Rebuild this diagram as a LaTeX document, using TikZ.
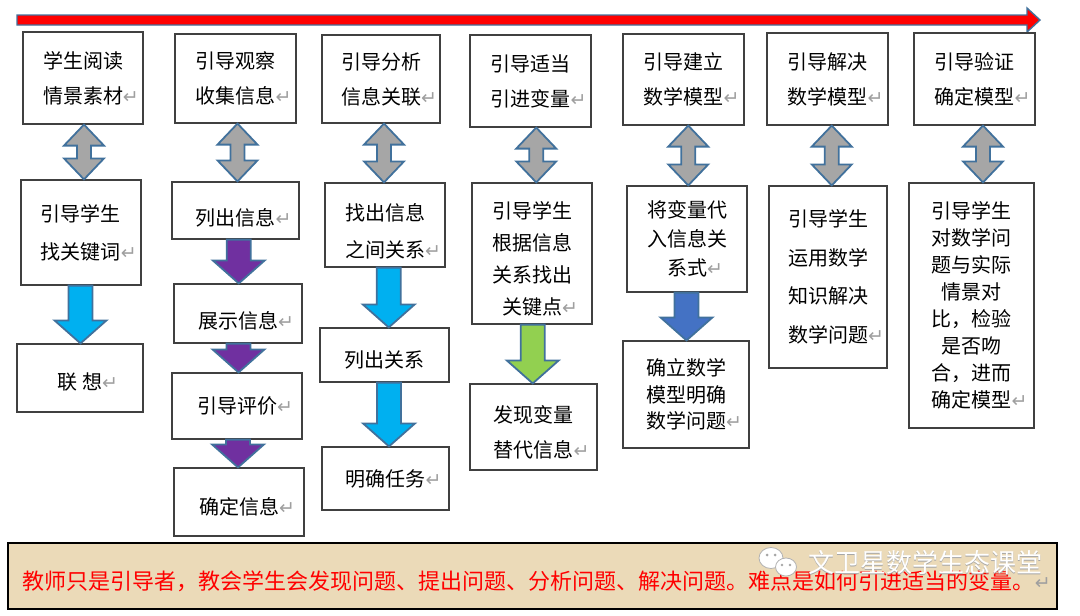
\documentclass[tikz,border=0pt]{standalone}
\usepackage{fontspec}
\setmainfont{Noto Sans CJK SC}
\newfontfamily\symfont{DejaVu Sans}
\usepackage{tikz}
\usetikzlibrary{calc}

\definecolor{arrowline}{RGB}{65,113,156}
\definecolor{boxline}{RGB}{64,64,64}
\definecolor{flowcyan}{RGB}{0,176,240}
\definecolor{flowpurple}{RGB}{112,48,160}
\definecolor{flowgreen}{RGB}{146,208,80}
\definecolor{flowblue}{RGB}{68,114,196}
\definecolor{flowgray}{RGB}{166,166,166}
\definecolor{paper}{RGB}{235,218,184}
\definecolor{notered}{RGB}{255,0,0}

% paragraph mark after a line
\newcommand{\pmark}{\rlap{\fontsize{19}{19}\symfont\color{gray!75}↵}}
% push the text of a box down
\newcommand{\lowtext}[1]{\rule{0pt}{\dimexpr17.6pt+#1*2\relax}}

% block arrow down between two boxes
\newcommand{\blockarrow}[4][0pt]{%
  \draw[arrowline, line width=1.8pt, fill=#4]
    let \p1=(#2.south), \p2=(#3.north), \p3=($(#2.south)!0.5!(#3.north)$) in
    (\x3+#1-12pt,\y1) -- (\x3+#1+12pt,\y1) -- (\x3+#1+12pt,\y2+23pt) -- (\x3+#1+26pt,\y2+23pt)
    -- (\x3+#1,\y2) -- (\x3+#1-26pt,\y2+23pt) -- (\x3+#1-12pt,\y2+23pt) -- cycle;}

% double arrow between two boxes
\newcommand{\dblarrow}[3][0pt]{%
  \draw[arrowline, line width=1.8pt, fill=flowgray]
    let \p1=(#2.south), \p2=(#3.north), \p3=($(#2.south)!0.5!(#3.north)$) in
    (\x3+#1,\y1) -- (\x3+#1+20pt,\y1-21pt) -- (\x3+#1+7pt,\y1-21pt) -- (\x3+#1+7pt,\y2+21pt)
    -- (\x3+#1+20pt,\y2+21pt) -- (\x3+#1,\y2) -- (\x3+#1-20pt,\y2+21pt) -- (\x3+#1-7pt,\y2+21pt)
    -- (\x3+#1-7pt,\y1-21pt) -- (\x3+#1-20pt,\y1-21pt) -- cycle;}

\begin{document}
\begin{tikzpicture}[x=1pt, y=-1pt,
    box/.style={draw=boxline, line width=1.2pt, inner sep=0pt, align=center,
      font=\fontsize{20}{35}\selectfont},
    ]
    \useasboundingbox (0,0) rectangle (1080,616);

    % time line
    \draw[arrowline, line width=1.4pt, fill=notered] (17,15) -- (1027,15) -- (1027,8) -- (1040,20)
        -- (1027,32) -- (1027,25) -- (17,25) -- cycle;

    % top row
    \node[box, minimum width=120, minimum height=92] (t1) at (83,78) {学生阅读\\情景素材\pmark};
    \node[box, minimum width=121, minimum height=89] (t2) at (235.5,78.5) {引导观察\\收集信息\pmark};
    \node[box, minimum width=118, minimum height=88] (t3) at (381,79) {引导分析\\信息关联\pmark};
    \node[box, minimum width=121, minimum height=92] (t4) at (530.5,81) {引导适当\\引进变量\pmark};
    \node[box, minimum width=121, minimum height=91] (t5) at (683.5,79.5) {引导建立\\数学模型\pmark};
    \node[box, minimum width=121, minimum height=92] (t6) at (827.5,79) {引导解决\\数学模型\pmark};
    \node[box, minimum width=121, minimum height=92] (t7) at (974.5,79) {引导验证\\确定模型\pmark};

    % second row
    \node[box, minimum width=120, minimum height=105, font=\fontsize{20}{38}\selectfont] (b1) at (81,232.5) {引导学生\\找关键词\pmark};
    \node[box, minimum width=127, minimum height=57] (b2) at (235.5,210.5) {\lowtext{7pt}列出信息\pmark};
    \node[box, minimum width=120, minimum height=84, font=\fontsize{20}{37}\selectfont] (b3) at (385,225) {\lowtext{6pt}找出信息\\之间关系\pmark};
    \node[box, minimum width=120, minimum height=141, font=\fontsize{20}{32}\selectfont] (b4) at (532,253.5) {\lowtext{5pt}引导学生\\根据信息\\关系找出\\关键点\pmark};
    \node[box, minimum width=120, minimum height=106, font=\fontsize{20}{29}\selectfont] (b5) at (687,239) {将变量代\\入信息关\\系式\pmark};
    \node[box, minimum width=118, minimum height=182, font=\fontsize{20}{38.5}\selectfont] (b6) at (828,277) {引导学生\\运用数学\\知识解决\\数学问题\pmark};
    \node[box, minimum width=125, minimum height=245, font=\fontsize{20}{27}\selectfont] (b7) at (971.5,305.5) {引导学生\\对数学问\\题与实际\\情景对\\比，检验\\是否吻\\合，进而\\确定模型\pmark};

    % lower rows
    \node[box, minimum width=126, minimum height=68] (c1) at (80,378) {\lowtext{4pt}联\ 想\pmark};
    \node[box, minimum width=128, minimum height=59] (c2) at (238,313.5) {\lowtext{7pt}展示信息\pmark};
    \node[box, minimum width=130, minimum height=66] (d2) at (237,406) {引导评价\pmark};
    \node[box, minimum width=130, minimum height=68] (e2) at (239,502) {\lowtext{5pt}确定信息\pmark};
    \node[box, minimum width=129, minimum height=54] (c3) at (384.5,355) {\lowtext{5pt}列出关系};
    \node[box, minimum width=127, minimum height=63] (d3) at (385.5,478.5) {明确任务\pmark};
    \node[box, minimum width=127, minimum height=86] (c4) at (533.5,427) {\lowtext{5pt}发现变量\\替代信息\pmark};
    \node[box, minimum width=126, minimum height=107, font=\fontsize{20}{26.5}\selectfont] (c5) at (686,394.5) {确立数学\\模型明确\\数学问题\pmark};

    % double arrows
    \dblarrow[2pt]{t1}{b1}
    \dblarrow[2pt]{t2}{b2}
    \dblarrow[1pt]{t3}{b3}
    \dblarrow[5pt]{t4}{b4}
    \dblarrow[3pt]{t5}{b5}
    \dblarrow[4pt]{t6}{b6}
    \dblarrow[10pt]{t7}{b7}

    % down arrows
    \blockarrow{b1}{c1}{flowcyan}
    \blockarrow[2pt]{b2}{c2}{flowpurple}
    \blockarrow[1pt]{c2}{d2}{flowpurple}
    \blockarrow{d2}{e2}{flowpurple}
    \blockarrow[4pt]{b3}{c3}{flowcyan}
    \blockarrow[4pt]{c3}{d3}{flowcyan}
    \blockarrow{b4}{c4}{flowgreen}
    \blockarrow{b5}{c5}{flowblue}

    % note at the bottom
    \draw[black, line width=2pt, fill=paper] (8,543) rectangle (1057,609);
    \node[text=notered, font=\fontsize{22}{22}\selectfont, inner sep=0pt] (note) at (529,581)
        {教师只是引导者，教会学生会发现问题、提出问题、分析问题、解决问题。难点是如何引进适当的变量。\pmark};

    % watermark
    \draw[gray!60, line width=0.8pt, fill=white] (771,558) ellipse (12 and 10.5);
    \draw[gray!60, line width=0.8pt, fill=white] (786,567) ellipse (10.5 and 9);
    \fill[gray!70] (767,555) circle (1.5) (775,555) circle (1.5) (782,565) circle (1.3) (790,565) circle (1.3);
    \node[text=gray!70, font=\fontsize{26}{26}\selectfont, inner sep=0pt] (markshade) at (925.8,563.8) {文卫星数学生态课堂};
    \node[text=white, font=\fontsize{26}{26}\selectfont, inner sep=0pt] (mark) at (925,563) {文卫星数学生态课堂};
\end{tikzpicture}
\end{document}
